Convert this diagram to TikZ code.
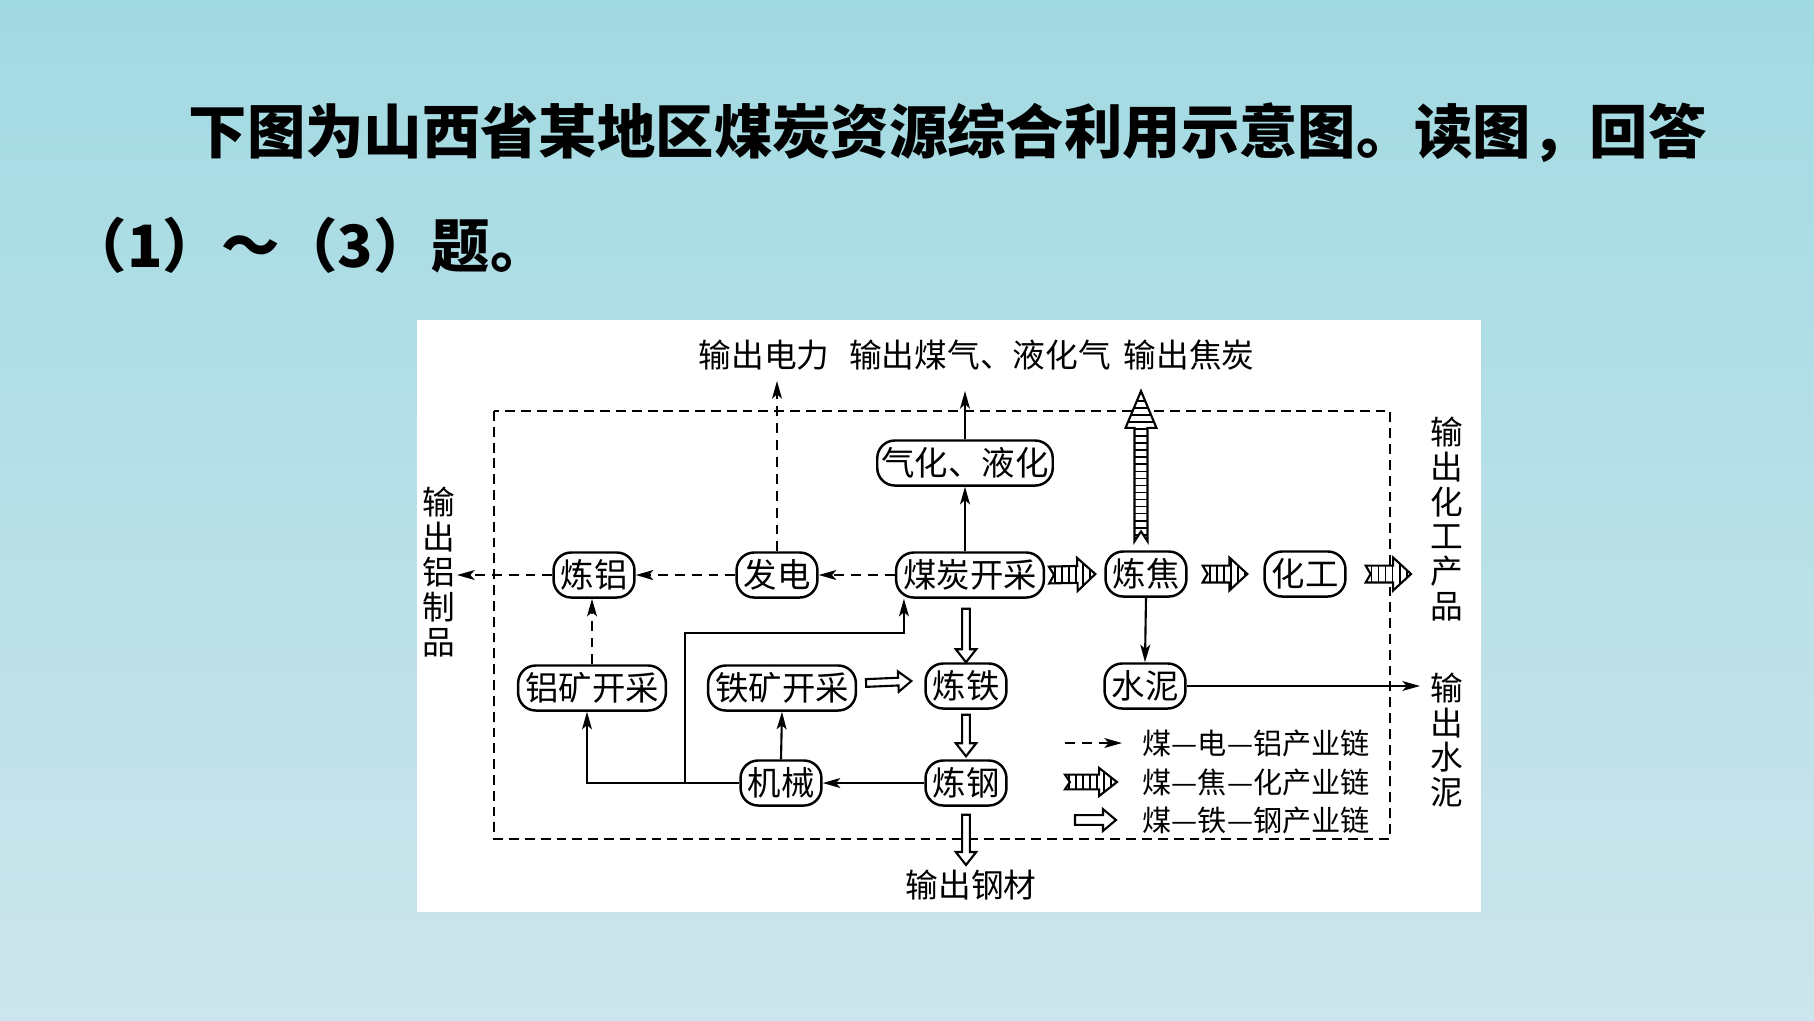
\documentclass[tikz,border=0pt]{standalone}
\usepackage{fontspec}
\setmainfont{Noto Sans CJK SC}
\usepackage{tikz}
\usetikzlibrary{positioning, arrows.meta, calc, patterns.meta}

\definecolor{SlideTop}{RGB}{162,218,226}
\definecolor{SlideBottom}{RGB}{205,229,236}

\tikzset{
  arr shaft/.store in=\arrshaft, arr shaft=1.1pt,
  arr head/.store in=\arrhead, arr head=2.9pt,
  arr headlen/.store in=\arrheadlen, arr headlen=3.7pt,
  arr notch/.store in=\arrnotch, arr notch=0pt,
  fatarrow/.style={line width=0.6pt, to path={
    let \p1=(\tikztostart), \p2=(\tikztotarget),
        \n1={atan2(\y2-\y1,\x2-\x1)} in
    ($(\p1)+(\n1+90:\arrshaft)$)
    -- ($(\p2)+(\n1+180:\arrheadlen)+(\n1+90:\arrshaft)$)
    -- ($(\p2)+(\n1+180:\arrheadlen)+(\n1+90:\arrhead)$)
    -- (\p2)
    -- ($(\p2)+(\n1+180:\arrheadlen)+(\n1-90:\arrhead)$)
    -- ($(\p2)+(\n1+180:\arrheadlen)+(\n1-90:\arrshaft)$)
    -- ($(\p1)+(\n1-90:\arrshaft)$)
    -- ($(\p1)+(\n1:\arrnotch)$) -- cycle}},
  iron/.style={fatarrow, draw, fill=white},
  coke/.style={fatarrow, draw, preaction={fill=white},
    pattern={Lines[angle=#1,distance=2pt,line width=0.5pt]},
    arr shaft=2.4pt, arr head=4.7pt, arr headlen=5.1pt, arr notch=1.4pt},
  stage/.style={draw, line width=0.7pt, rounded corners=5pt, inner xsep=2pt,
    inner ysep=0pt, minimum height=12.8pt, fill=white,
    font=\fontsize{9.5pt}{11pt}\selectfont},
  outlabel/.style={inner sep=0pt, font=\fontsize{9.3pt}{11pt}\selectfont},
  vlabel/.style={inner sep=0pt, align=center, font=\fontsize{9.3pt}{9.9pt}\selectfont},
  keylabel/.style={inner sep=0pt, anchor=west, font=\fontsize{8.3pt}{10pt}\selectfont},
  title/.style={inner sep=0pt, anchor=west, font=\fontsize{16.6pt}{20pt}\selectfont\bfseries},
  flow/.style={line width=0.6pt, -{Stealth[length=5pt,width=2.8pt,inset=1.2pt]}},
  power/.style={flow, dash pattern=on 2.8pt off 2pt},
  zone/.style={line width=0.6pt, dash pattern=on 2.8pt off 1.7pt}
}

\begin{document}
\begin{tikzpicture}[x=0.01cm, y=-0.01cm]
\useasboundingbox (0,0) rectangle (1814,1020);
% slide and panel
\shade[top color=SlideTop, bottom color=SlideBottom] (0,0) rectangle (1814,1020);
\fill[white] (417,320) rectangle (1481,912);

% question
\node[title] (q1) at (188,133) {下图为山西省某地区煤炭资源综合利用示意图。读图，回答};
\node[title] (q2) at (68,245) {（1）～（3）题。};

% region boundary
\draw[zone] (494,411) rectangle (1390,839);

% stages
\node[stage] (tl) at (594,575) {炼铝};
\node[stage] (fd) at (777,575) {发电};
\node[stage] (mt) at (970,575) {煤炭开采};
\node[stage] (lj) at (1146,574) {炼焦};
\node[stage] (hg) at (1305,574) {化工};
\node[stage, inner xsep=1.2pt] (qh) at (965,463) {气化、液化};
\node[stage] (lk) at (592,688) {铝矿开采};
\node[stage] (tk) at (782,688) {铁矿开采};
\node[stage] (lt) at (966,686) {炼铁};
\node[stage] (sn) at (1145,686) {水泥};
\node[stage] (jx) at (781,783) {机械};
\node[stage] (lg) at (966,783) {炼钢};

% outputs
\node[outlabel] (outpw) at (764,355) {输出电力};
\node[outlabel] (outgas) at (980,355) {输出煤气、液化气};
\node[outlabel] (outcoke) at (1189,355) {输出焦炭};
\node[outlabel] (outsteel) at (971,885) {输出钢材};
\node[vlabel] (outal) at (439,572) {输\\出\\铝\\制\\品};
\node[vlabel] (outchem) at (1447,519) {输\\出\\化\\工\\产\\品};
\node[vlabel] (outcem) at (1447,740) {输\\出\\水\\泥};

\coordinate (alend) at (457,575);
\coordinate (pwend) at (777,381);
\coordinate (gasend) at (965,391);
\coordinate (cokeend) at (1141,391);
\coordinate (chemend) at (1411,574);
\coordinate (cemend) at (1420,686);
\coordinate (steelend) at (966,865);
\coordinate (fork) at (685,783);
\coordinate (bend) at (685,633);

% coal - power - aluminium
\draw[power] (mt.west) -- (fd.east);
\draw[power] (fd.west) -- (tl.east);
\draw[power] (tl.west) -- (alend);
\draw[power] (fd.north) -- (pwend);
\draw[power] (lk.north) -- (lk.north |- tl.south);

% coal - coke - chemicals
\draw[coke=90] ([xshift=0.04cm]mt.east) to ([xshift=-0.09cm]lj.west);
\draw[coke=90] ([xshift=0.15cm]lj.east) to ([xshift=-0.16cm]hg.west);
\draw[coke=90] ([xshift=0.19cm]hg.east) to (chemend);
\draw[coke=0, arr shaft=1.85pt, arr head=4.4pt, arr headlen=10.5pt, arr notch=2.8pt]
  ([xshift=-0.05cm,yshift=0.09cm]lj.north) to (cokeend);

% coal - iron - steel
\draw[iron] ([yshift=-0.1cm]lt.north |- mt.south) to (lt.north);
\draw[iron] ([xshift=0.09cm,yshift=0.05cm]tk.east) to ([xshift=-0.13cm,yshift=0.05cm]lt.west);
\draw[iron] ([yshift=-0.05cm]lt.south) to ([yshift=0.03cm]lg.north);
\draw[iron] ([yshift=-0.08cm]lg.south) to (steelend);

% other flows
\draw[flow] (qh.south |- mt.north) -- (qh.south);
\draw[flow] (qh.north) -- (gasend);
\draw[flow] (lj.south) -- (sn.north);
\draw[flow] (sn.east) -- (cemend);
\draw[flow] (lg.west) -- (jx.east);
\draw[flow] (jx.north) -- (tk.south);
\draw[flow] (jx.west) -| ([xshift=-0.05cm]lk.south);
\draw[flow] (fork) -- (bend) -| ([xshift=0.09cm]mt.south west);

% legend
\node[keylabel] (key1) at (1142,743) {煤—电—铝产业链};
\node[keylabel] (key2) at (1142,782) {煤—焦—化产业链};
\node[keylabel] (key3) at (1142,820) {煤—铁—钢产业链};
\draw[power] ([xshift=-0.77cm]key1.west) -- ([xshift=-0.2cm]key1.west);
\draw[coke=90, arr shaft=2.1pt, arr head=4pt] ([xshift=-0.77cm]key2.west) to ([xshift=-0.25cm]key2.west);
\draw[iron, arr shaft=1.4pt, arr head=3.1pt] ([xshift=-0.67cm]key3.west) to ([xshift=-0.26cm]key3.west);
\end{tikzpicture}
\end{document}
